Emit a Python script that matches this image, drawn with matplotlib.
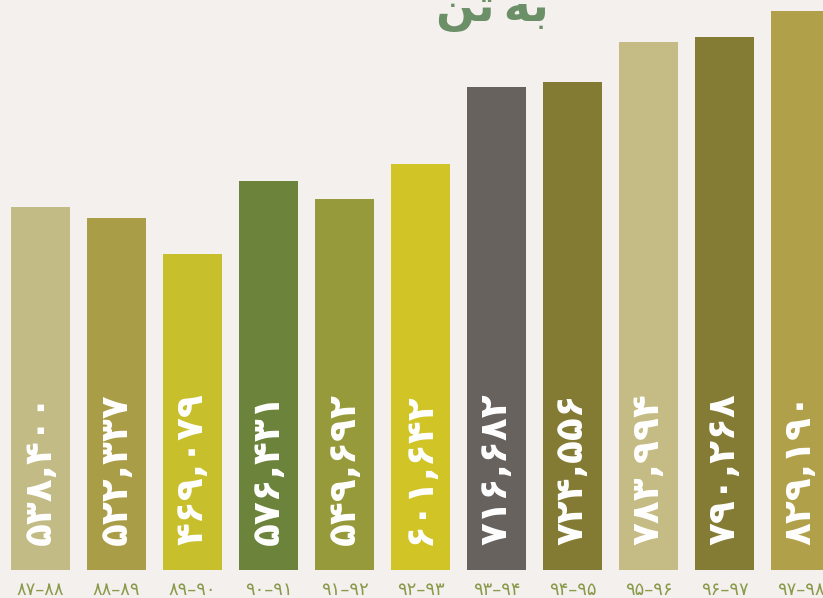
import matplotlib
matplotlib.use("Agg")
import matplotlib.pyplot as plt

categories = ["۸۷–۸۸", "۸۸–۸۹", "۸۹–۹۰", "۹۰–۹۱", "۹۱–۹۲", "۹۲–۹۳",
              "۹۳–۹۴", "۹۴–۹۵", "۹۵–۹۶", "۹۶–۹۷", "۹۷–۹۸"]
values = [538400, 522337, 469079, 576431, 549692, 601642,
          716682, 724556, 783994, 790268, 829190]
value_labels = ["۵۳۸,۴۰۰", "۵۲۲,۳۳۷", "۴۶۹,۰۷۹", "۵۷۶,۴۳۱", "۵۴۹,۶۹۲", "۶۰۱,۶۴۲",
                "۷۱۶,۶۸۲", "۷۲۴,۵۵۶", "۷۸۳,۹۹۴", "۷۹۰,۲۶۸", "۸۲۹,۱۹۰"]
colors = ["#c3bb86", "#aa9d47", "#c8bf2c", "#6b833a", "#979a3a", "#d0c426",
          "#67625e", "#837b33", "#c5bb85", "#847c34", "#b0a04a"]
# "به تن" in visual order with presentation forms
title = "\uFEE6\uFE97\u2009\uFEEA\uFE91"

bg = "#f3f0ee"
fig = plt.figure(figsize=(8.23, 5.98), dpi=100, facecolor=bg)
ax = fig.add_axes([0, 28 / 598, 1, 570 / 598])
ax.set_facecolor(bg)

x = list(range(len(values)))
ax.bar(x, values, width=0.776, color=colors, zorder=2)
ax.set_xlim(-0.533, 10.296)
ax.set_ylim(0, 845600)

for xi, lab in zip(x, value_labels):
    ax.annotate(lab, xy=(xi, 0), xytext=(0, 18), textcoords="offset points",
                rotation=90, ha="center", va="bottom", color="white",
                fontsize=27, fontweight="bold", family="DejaVu Sans")

ax.set_xticks(x)
ax.set_xticklabels(categories, color="#8a9a4a", fontsize=13)
ax.tick_params(axis="x", length=0, pad=8)
ax.set_yticks([])
for s in ax.spines.values():
    s.set_visible(False)

fig.text(492 / 823, 1 - 9 / 598, title, ha="center", va="center",
         fontsize=33, fontweight="bold", color="#6b8f66", family="DejaVu Sans")

fig.savefig("out.png", dpi=100, facecolor=bg)
